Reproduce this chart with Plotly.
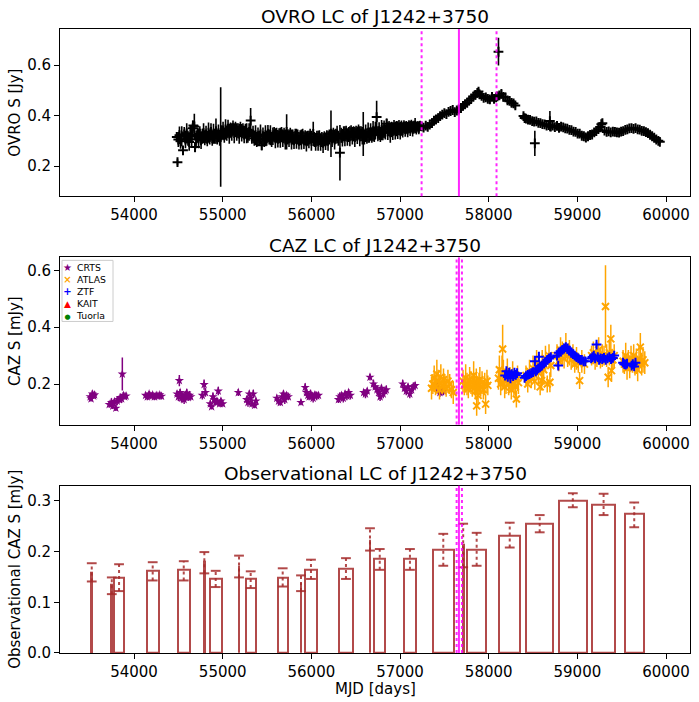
import plotly.graph_objects as go

# ---------------- OVRO 15 GHz light curve ----------------
ovro_mjd = [
    54482, 54490, 54499, 54512, 54525, 54538, 54552, 54566, 54580, 54594,
    54608, 54622, 54636, 54650, 54662, 54669, 54680, 54688, 54700, 54714,
    54728, 54742, 54756, 54770, 54784, 54798, 54812, 54826, 54840, 54854,
    54868, 54882, 54896, 54910, 54924, 54938, 54952, 54966, 54977, 54990,
    55004, 55018, 55032, 55046, 55060, 55074, 55088, 55102, 55116, 55130,
    55144, 55158, 55172, 55186, 55200, 55214, 55228, 55242, 55256, 55270,
    55284, 55298, 55315, 55328, 55342, 55356, 55370, 55384, 55398, 55412,
    55426, 55440, 55454, 55468, 55482, 55496, 55510, 55524, 55538, 55552,
    55566, 55580, 55594, 55608, 55622, 55636, 55650, 55664, 55678, 55692,
    55706, 55721, 55734, 55748, 55762, 55776, 55790, 55804, 55818, 55832,
    55846, 55860, 55874, 55888, 55902, 55916, 55930, 55944, 55958, 55972,
    55986, 56000, 56021, 56034, 56048, 56062, 56076, 56090, 56104, 56118,
    56132, 56146, 56160, 56174, 56188, 56202, 56221, 56234, 56248, 56262,
    56276, 56290, 56304, 56322, 56336, 56350, 56364, 56378, 56392, 56406,
    56420, 56434, 56448, 56462, 56476, 56490, 56504, 56518, 56532, 56546,
    56560, 56574, 56585, 56598, 56612, 56626, 56640, 56654, 56668, 56682,
    56696, 56710, 56722, 56736, 56750, 56764, 56778, 56792, 56806, 56820,
    56834, 56849, 56862, 56876, 56890, 56904, 56918, 56932, 56946, 56960,
    56974, 56988, 57002, 57016, 57030, 57044, 57058, 57072, 57086, 57100,
    57114, 57128, 57142, 57156, 57170, 57184, 57198, 57212, 57226, 57243,
    57265, 57290, 57312, 57335, 57360, 57383, 57405, 57430, 57452, 57476,
    57500, 57523, 57547, 57570, 57594, 57617, 57640, 57662, 57687, 57710,
    57733, 57757, 57780, 57803, 57827, 57850, 57872, 57885, 57897, 57920,
    57943, 57967, 57990, 58013, 58037, 58060, 58083, 58098, 58110, 58120,
    58143, 58165, 58188, 58212, 58235, 58258, 58280, 58300, 58392, 58405,
    58420, 58443, 58466, 58490, 58512, 58520, 58537, 58560, 58583, 58606,
    58630, 58653, 58676, 58690, 58700, 58722, 58746, 58770, 58793, 58816,
    58840, 58863, 58886, 58910, 58933, 58956, 58980, 59003, 59026, 59050,
    59073, 59096, 59120, 59143, 59166, 59190, 59213, 59236, 59258, 59270,
    59282, 59306, 59330, 59353, 59376, 59400, 59423, 59446, 59470, 59493,
    59516, 59540, 59563, 59586, 59610, 59633, 59656, 59680, 59703, 59726,
    59750, 59773, 59796, 59820, 59843, 59866, 59890, 59913, 59930,
]
ovro_flux = [
    0.315, 0.215, 0.305, 0.322, 0.298, 0.318, 0.262, 0.325, 0.305, 0.33,
    0.31, 0.295, 0.325, 0.318, 0.35, 0.361, 0.357, 0.275, 0.305, 0.322,
    0.31, 0.328, 0.302, 0.318, 0.33, 0.312, 0.325, 0.308, 0.332, 0.315,
    0.335, 0.31, 0.328, 0.318, 0.338, 0.315, 0.33, 0.31, 0.315, 0.332,
    0.34, 0.322, 0.345, 0.33, 0.348, 0.328, 0.342, 0.335, 0.35, 0.33,
    0.345, 0.335, 0.34, 0.328, 0.345, 0.332, 0.34, 0.325, 0.338, 0.33,
    0.322, 0.335, 0.38, 0.318, 0.325, 0.31, 0.322, 0.305, 0.318, 0.31,
    0.325, 0.282, 0.318, 0.305, 0.322, 0.31, 0.328, 0.315, 0.322, 0.305,
    0.318, 0.325, 0.31, 0.322, 0.308, 0.32, 0.312, 0.325, 0.31, 0.322,
    0.305, 0.335, 0.315, 0.31, 0.322, 0.305, 0.315, 0.302, 0.318, 0.308,
    0.315, 0.3, 0.312, 0.305, 0.318, 0.302, 0.312, 0.298, 0.31, 0.305,
    0.318, 0.3, 0.327, 0.305, 0.295, 0.31, 0.3, 0.312, 0.295, 0.305,
    0.292, 0.308, 0.298, 0.312, 0.3, 0.315, 0.328, 0.31, 0.322, 0.305,
    0.318, 0.325, 0.31, 0.253, 0.322, 0.312, 0.328, 0.318, 0.33, 0.315,
    0.325, 0.318, 0.332, 0.32, 0.328, 0.315, 0.33, 0.322, 0.335, 0.318,
    0.328, 0.32, 0.327, 0.315, 0.33, 0.318, 0.332, 0.322, 0.335, 0.322,
    0.338, 0.325, 0.34, 0.394, 0.328, 0.338, 0.325, 0.342, 0.332, 0.345,
    0.335, 0.368, 0.338, 0.348, 0.332, 0.345, 0.338, 0.352, 0.34, 0.348,
    0.342, 0.352, 0.34, 0.35, 0.343, 0.356, 0.346, 0.353, 0.344, 0.356,
    0.349, 0.358, 0.347, 0.354, 0.36, 0.35, 0.357, 0.351, 0.359, 0.357,
    0.352, 0.36, 0.355, 0.364, 0.37, 0.38, 0.385, 0.39, 0.398, 0.404,
    0.41, 0.406, 0.415, 0.418, 0.422, 0.414, 0.42, 0.424, 0.43, 0.438,
    0.444, 0.45, 0.46, 0.468, 0.475, 0.482, 0.49, 0.495, 0.484, 0.478,
    0.47, 0.472, 0.466, 0.464, 0.474, 0.466, 0.472, 0.476, 0.653, 0.48,
    0.486, 0.474, 0.472, 0.46, 0.458, 0.45, 0.448, 0.44, 0.398, 0.39,
    0.388, 0.384, 0.383, 0.378, 0.376, 0.29, 0.377, 0.371, 0.37, 0.366,
    0.365, 0.36, 0.362, 0.378, 0.356, 0.36, 0.354, 0.359, 0.351, 0.356,
    0.353, 0.349, 0.348, 0.343, 0.342, 0.336, 0.335, 0.328, 0.328, 0.32,
    0.318, 0.313, 0.318, 0.323, 0.325, 0.333, 0.338, 0.346, 0.355, 0.366,
    0.37, 0.34, 0.335, 0.337, 0.333, 0.336, 0.335, 0.333, 0.332, 0.336,
    0.338, 0.343, 0.345, 0.349, 0.35, 0.347, 0.35, 0.345, 0.344, 0.339,
    0.338, 0.334, 0.33, 0.324, 0.318, 0.312, 0.305, 0.3, 0.296,
]
ovro_err = [
    0.02, 0.012, 0.03, 0.035, 0.03, 0.04, 0.012, 0.03, 0.035, 0.04,
    0.03, 0.035, 0.03, 0.045, 0.03, 0.012, 0.05, 0.02, 0.035, 0.03,
    0.04, 0.03, 0.035, 0.03, 0.04, 0.03, 0.035, 0.03, 0.04, 0.03,
    0.035, 0.03, 0.04, 0.03, 0.05, 0.03, 0.035, 0.03, 0.197, 0.03,
    0.035, 0.03, 0.04, 0.03, 0.035, 0.04, 0.03, 0.035, 0.03, 0.04,
    0.03, 0.035, 0.03, 0.04, 0.03, 0.035, 0.03, 0.035, 0.03, 0.04,
    0.03, 0.035, 0.05, 0.03, 0.035, 0.03, 0.04, 0.03, 0.035, 0.03,
    0.04, 0.02, 0.035, 0.03, 0.04, 0.03, 0.035, 0.03, 0.04, 0.03,
    0.035, 0.03, 0.04, 0.03, 0.035, 0.03, 0.04, 0.03, 0.035, 0.03,
    0.04, 0.07, 0.03, 0.035, 0.03, 0.04, 0.03, 0.035, 0.03, 0.04,
    0.03, 0.035, 0.03, 0.04, 0.03, 0.035, 0.03, 0.04, 0.03, 0.035,
    0.03, 0.04, 0.048, 0.03, 0.035, 0.03, 0.04, 0.03, 0.035, 0.03,
    0.04, 0.03, 0.035, 0.03, 0.04, 0.03, 0.092, 0.035, 0.03, 0.04,
    0.03, 0.035, 0.03, 0.11, 0.03, 0.035, 0.03, 0.04, 0.03, 0.035,
    0.03, 0.04, 0.03, 0.035, 0.03, 0.04, 0.03, 0.035, 0.03, 0.04,
    0.03, 0.035, 0.087, 0.03, 0.035, 0.03, 0.04, 0.03, 0.035, 0.03,
    0.04, 0.03, 0.035, 0.065, 0.03, 0.035, 0.03, 0.04, 0.03, 0.035,
    0.03, 0.02, 0.035, 0.03, 0.04, 0.03, 0.035, 0.03, 0.035, 0.03,
    0.035, 0.03, 0.035, 0.03, 0.03, 0.025, 0.03, 0.025, 0.03, 0.025,
    0.03, 0.025, 0.03, 0.025, 0.03, 0.025, 0.02, 0.025, 0.02, 0.015,
    0.012, 0.012, 0.01, 0.012, 0.01, 0.012, 0.01, 0.01, 0.01, 0.01,
    0.01, 0.01, 0.01, 0.01, 0.01, 0.01, 0.01, 0.01, 0.01, 0.01,
    0.01, 0.01, 0.01, 0.01, 0.01, 0.01, 0.012, 0.012, 0.012, 0.012,
    0.012, 0.012, 0.012, 0.012, 0.012, 0.012, 0.012, 0.015, 0.055, 0.015,
    0.015, 0.012, 0.012, 0.012, 0.012, 0.012, 0.012, 0.012, 0.01, 0.01,
    0.01, 0.01, 0.01, 0.01, 0.01, 0.05, 0.01, 0.01, 0.01, 0.01,
    0.01, 0.01, 0.01, 0.04, 0.01, 0.01, 0.008, 0.008, 0.008, 0.008,
    0.008, 0.008, 0.008, 0.008, 0.008, 0.008, 0.008, 0.008, 0.008, 0.008,
    0.008, 0.008, 0.008, 0.008, 0.008, 0.008, 0.008, 0.008, 0.008, 0.008,
    0.008, 0.008, 0.008, 0.008, 0.008, 0.008, 0.008, 0.008, 0.008, 0.008,
    0.008, 0.008, 0.008, 0.008, 0.008, 0.008, 0.008, 0.008, 0.008, 0.008,
    0.008, 0.008, 0.008, 0.008, 0.008, 0.008, 0.008, 0.008, 0.008,
]

# ---------------- optical (CAZ) light curves ----------------
crts_mjd = [
    53505, 53515, 53530, 53545, 53555,
    53720, 53745, 53760, 53780, 53795, 53810, 53830, 53845, 53860, 53868, 53880, 53895, 53910,
    54130, 54150, 54170, 54190, 54210, 54230, 54250, 54270, 54290, 54310,
    54485, 54500, 54511, 54520, 54535, 54550, 54565, 54580, 54595, 54610, 54625, 54640,
    54770, 54790, 54805,
    54860, 54875, 54890, 54905, 54920, 54935, 54950, 54965, 54980, 55000,
    55176,
    55270, 55285, 55300, 55315, 55330, 55345, 55360, 55375,
    55610, 55630, 55650, 55670, 55685, 55700, 55720, 55740,
    55882,
    55930, 55945, 55960, 55975, 55990, 56005, 56020, 56040, 56060, 56080,
    56305, 56320, 56340, 56360, 56380, 56400, 56420, 56440,
    56590, 56610, 56630,
    56661,
    56700, 56720, 56740, 56760, 56775, 56790, 56810, 56830, 56845,
    57030, 57050, 57070, 57090, 57110, 57130, 57150, 57170,
    57410, 57430, 57450, 57470, 57490,
]
crts_flux = [
    0.155, 0.148, 0.165, 0.158, 0.162,
    0.128, 0.135, 0.122, 0.138, 0.115, 0.14, 0.145, 0.152, 0.148, 0.235, 0.16, 0.155, 0.158,
    0.16, 0.155, 0.165, 0.158, 0.162, 0.155, 0.16, 0.158, 0.162, 0.157,
    0.165, 0.155, 0.212, 0.17, 0.15, 0.158, 0.145, 0.162, 0.168, 0.152, 0.16, 0.155,
    0.16, 0.198, 0.17,
    0.13, 0.12, 0.155, 0.145, 0.135, 0.14, 0.175, 0.13, 0.14, 0.13,
    0.17,
    0.145, 0.135, 0.165, 0.15, 0.13, 0.165, 0.125, 0.14,
    0.15, 0.14, 0.135, 0.155, 0.165, 0.145, 0.16, 0.155,
    0.135,
    0.188, 0.17, 0.16, 0.155, 0.165, 0.16, 0.15, 0.162, 0.158, 0.16,
    0.145, 0.155, 0.16, 0.15, 0.165, 0.158, 0.17, 0.16,
    0.17, 0.165, 0.175,
    0.224,
    0.2, 0.19, 0.18, 0.17, 0.155, 0.185, 0.165, 0.175, 0.18,
    0.2, 0.185, 0.175, 0.19, 0.165, 0.18, 0.19, 0.195,
    0.2, 0.185, 0.17, 0.18, 0.175,
]
crts_err = [
    0.012, 0.01, 0.012, 0.01, 0.012,
    0.012, 0.015, 0.01, 0.012, 0.01, 0.015, 0.012, 0.01, 0.015, 0.058, 0.012, 0.01, 0.012,
    0.01, 0.012, 0.01, 0.012, 0.01, 0.012, 0.01, 0.012, 0.01, 0.012,
    0.012, 0.015, 0.02, 0.012, 0.015, 0.012, 0.015, 0.012, 0.015, 0.012, 0.015, 0.012,
    0.015, 0.018, 0.015,
    0.012, 0.01, 0.015, 0.012, 0.01, 0.012, 0.015, 0.01, 0.012, 0.01,
    0.012,
    0.012, 0.015, 0.012, 0.015, 0.012, 0.015, 0.01, 0.012,
    0.012, 0.015, 0.012, 0.015, 0.012, 0.015, 0.012, 0.012,
    0.01,
    0.015, 0.012, 0.015, 0.012, 0.015, 0.012, 0.015, 0.012, 0.015, 0.012,
    0.012, 0.015, 0.012, 0.015, 0.012, 0.015, 0.012, 0.015,
    0.012, 0.015, 0.012,
    0.012,
    0.015, 0.012, 0.015, 0.012, 0.015, 0.012, 0.015, 0.012, 0.015,
    0.015, 0.012, 0.015, 0.012, 0.015, 0.012, 0.015, 0.012,
    0.015, 0.02, 0.015, 0.02, 0.015,
]

atlas_mjd = [
    57355, 57370, 57385, 57400, 57415, 57430, 57445, 57460, 57475, 57490, 57505, 57520, 57540, 57560, 57580, 57600,
    57710, 57725, 57740, 57755, 57770, 57785, 57800, 57815, 57830, 57840, 57850, 57860,
    57864, 57870, 57880, 57890, 57900, 57910, 57925, 57940, 57955, 57965, 57980, 57990,
    58110, 58120, 58135, 58150, 58157, 58165, 58180, 58195, 58210, 58225, 58240, 58255, 58270, 58285, 58300, 58312, 58325, 58335,
    58420, 58440, 58460, 58480, 58500, 58520, 58540, 58560, 58580, 58596, 58603, 58620, 58640, 58660, 58680, 58690, 58700,
    58770, 58790, 58810, 58830, 58850, 58870, 58890, 58910, 58930, 58950, 58970, 58990, 59010, 59025, 59050, 59080,
    59160, 59180, 59200, 59220, 59240, 59260, 59280, 59300, 59317, 59330, 59347, 59360, 59377, 59385, 59400, 59415,
    59515, 59530, 59545, 59560, 59575, 59590, 59605, 59620, 59635, 59650, 59665, 59680, 59695, 59710, 59725, 59740, 59760,
]
atlas_flux = [
    0.185, 0.2, 0.22, 0.19, 0.235, 0.21, 0.18, 0.225, 0.195, 0.215, 0.2, 0.185, 0.21, 0.2, 0.18, 0.17,
    0.21, 0.195, 0.22, 0.2, 0.185, 0.215, 0.205, 0.19, 0.23, 0.2, 0.175, 0.21,
    0.123, 0.185, 0.16, 0.2, 0.215, 0.19, 0.205, 0.18, 0.2, 0.129, 0.21, 0.195,
    0.22, 0.25, 0.2, 0.24, 0.3235, 0.235, 0.19, 0.21, 0.24, 0.2, 0.215, 0.18, 0.23, 0.2, 0.19, 0.147, 0.22, 0.205,
    0.23, 0.2, 0.245, 0.22, 0.255, 0.21, 0.27, 0.24, 0.19, 0.212, 0.26, 0.25, 0.29, 0.2, 0.3, 0.206, 0.265,
    0.3, 0.28, 0.32, 0.31, 0.29, 0.33, 0.3, 0.31, 0.285, 0.3, 0.27, 0.29, 0.275, 0.212, 0.28, 0.27,
    0.3, 0.31, 0.285, 0.3, 0.32, 0.29, 0.3, 0.3, 0.473, 0.3, 0.2235, 0.31, 0.359, 0.247, 0.285, 0.3,
    0.28, 0.27, 0.3, 0.255, 0.285, 0.26, 0.29, 0.275, 0.3, 0.265, 0.28, 0.25, 0.29, 0.33, 0.27, 0.285, 0.275,
]
atlas_err = [
    0.04, 0.035, 0.045, 0.03, 0.05, 0.04, 0.035, 0.045, 0.03, 0.04, 0.035, 0.03, 0.04, 0.035, 0.03, 0.04,
    0.04, 0.035, 0.05, 0.04, 0.035, 0.045, 0.04, 0.035, 0.05, 0.04, 0.03, 0.045,
    0.035, 0.04, 0.035, 0.04, 0.045, 0.035, 0.04, 0.035, 0.04, 0.035, 0.04, 0.035,
    0.04, 0.05, 0.04, 0.06, 0.085, 0.05, 0.04, 0.045, 0.05, 0.04, 0.045, 0.035, 0.05, 0.04, 0.035, 0.03, 0.045, 0.04,
    0.035, 0.03, 0.04, 0.035, 0.045, 0.03, 0.05, 0.04, 0.03, 0.035, 0.06, 0.04, 0.045, 0.03, 0.04, 0.035, 0.04,
    0.04, 0.035, 0.045, 0.04, 0.035, 0.05, 0.04, 0.045, 0.035, 0.04, 0.03, 0.04, 0.035, 0.03, 0.04, 0.035,
    0.035, 0.04, 0.035, 0.04, 0.045, 0.035, 0.04, 0.035, 0.145, 0.04, 0.035, 0.045, 0.05, 0.04, 0.035, 0.04,
    0.04, 0.035, 0.045, 0.04, 0.035, 0.04, 0.045, 0.035, 0.04, 0.035, 0.045, 0.04, 0.045, 0.05, 0.04, 0.045, 0.04,
]

ztf_mjd = [
    58185, 58200, 58215, 58230, 58245, 58260, 58275, 58290, 58305, 58320,
    58405, 58420, 58440, 58460, 58480, 58500, 58521, 58530, 58545, 58560, 58566, 58580, 58600, 58620, 58640, 58660, 58680, 58700,
    58770, 58784, 58790, 58810, 58830, 58850, 58870, 58890, 58910, 58930, 58950, 58970, 58990, 59010, 59030, 59050, 59070, 59090,
    59155, 59170, 59185, 59200, 59216, 59230, 59245, 59260, 59280, 59300, 59320, 59340, 59360, 59380, 59400, 59415,
    59515, 59530, 59545, 59560, 59612, 59625, 59640, 59655,
]
ztf_flux = [
    0.23, 0.245, 0.225, 0.24, 0.22, 0.235, 0.228, 0.24, 0.232, 0.238,
    0.222, 0.228, 0.232, 0.235, 0.238, 0.242, 0.28, 0.245, 0.25, 0.255, 0.296, 0.26, 0.265, 0.272, 0.278, 0.285, 0.29, 0.295,
    0.3, 0.265, 0.31, 0.315, 0.32, 0.325, 0.33, 0.325, 0.318, 0.31, 0.305, 0.3, 0.295, 0.29, 0.285, 0.285, 0.28, 0.28,
    0.29, 0.295, 0.3, 0.29, 0.339, 0.295, 0.285, 0.29, 0.288, 0.292, 0.285, 0.29, 0.295, 0.288, 0.292, 0.3,
    0.275, 0.27, 0.268, 0.272, 0.265, 0.27, 0.262, 0.275,
]
ztf_err = [
    0.008, 0.01, 0.008, 0.01, 0.008, 0.01, 0.008, 0.01, 0.008, 0.01,
    0.008, 0.01, 0.008, 0.01, 0.008, 0.01, 0.008, 0.01, 0.008, 0.01, 0.008, 0.01, 0.008, 0.01, 0.008, 0.01, 0.008, 0.01,
    0.008, 0.01, 0.008, 0.01, 0.008, 0.01, 0.008, 0.01, 0.008, 0.01, 0.008, 0.01, 0.008, 0.01, 0.008, 0.01, 0.008, 0.01,
    0.008, 0.01, 0.008, 0.01, 0.008, 0.01, 0.008, 0.01, 0.008, 0.01, 0.008, 0.01, 0.008, 0.01, 0.008, 0.01,
    0.008, 0.01, 0.008, 0.01, 0.008, 0.01, 0.008, 0.01,
]
# KAIT and Tuorla have no points for this source
kait_mjd, kait_flux = [], []
tuorla_mjd, tuorla_flux = [], []

# ---------------- observational (binned) CAZ light curve ----------------
obs_start = [53518, 53744, 53778, 54143, 54493, 54788, 54853, 55179, 55259, 55620, 55878, 55931,
             56315, 56656, 56709, 57040, 57367, 57707, 57757, 58119, 58423, 58787, 59166, 59532]
obs_end = [53528, 53754, 53884, 54278, 54628, 54798, 54989, 55189, 55372, 55733, 55888, 56060,
           56465, 56666, 56833, 57183, 57608, 57717, 57971, 58355, 58727, 59110, 59425, 59750]
obs_flux = [0.159, 0.135, 0.148, 0.162, 0.164, 0.180, 0.146, 0.172, 0.146, 0.149, 0.139, 0.164,
            0.167, 0.224, 0.1855, 0.1855, 0.2046, 0.213, 0.2046, 0.232, 0.2546, 0.301, 0.292, 0.274]
obs_lo = [0.141, 0.116, 0.122, 0.143, 0.143, 0.157, 0.130, 0.149, 0.128, 0.131, 0.122, 0.146,
          0.146, 0.202, 0.164, 0.164, 0.172, 0.169, 0.172, 0.208, 0.238, 0.2875, 0.272, 0.248]
obs_hi = [0.177, 0.149, 0.175, 0.179, 0.181, 0.199, 0.162, 0.192, 0.161, 0.167, 0.153, 0.184,
          0.187, 0.246, 0.205, 0.205, 0.235, 0.255, 0.237, 0.257, 0.272, 0.315, 0.314, 0.297]

# flare epoch and windows (magenta lines)
flare_mjd = 57664
ovro_window = [57243, 58088]
caz_window = [57638, 57698]

legend_names = ['CRTS', 'ATLAS', 'ZTF', 'KAIT', 'Tuorla']
legend_glyphs = ['★', '<b>×</b>', '<b>+</b>', '▲', '●']
legend_colors = ['purple', 'orange', 'blue', 'red', 'green']
legend_glyph_px = [10, 10, 10, 9, 7]

font = 'DejaVu Sans'
bar_col = 'rgba(165,42,42,0.85)'
mag_col = 'rgba(255,0,255,0.85)'
W, H = 699, 702      # reference pixel grid, used for all paper fractions
FIG_H = 712          # the page is photographed slightly squeezed, so draw a bit taller

fig = go.Figure()

# top panel
fig.add_trace(go.Scatter(
    x=ovro_mjd, y=ovro_flux, mode='markers',
    marker=dict(symbol='cross-thin', size=7, color='black', line=dict(width=2, color='black')),
    error_y=dict(type='data', array=ovro_err, color='black', thickness=1.6, width=0),
    xaxis='x', yaxis='y'))

# middle panel
fig.add_trace(go.Scatter(
    x=crts_mjd, y=crts_flux, mode='markers', name='CRTS',
    marker=dict(symbol='star', size=7, color='purple', line=dict(width=0)),
    error_y=dict(type='data', array=crts_err, color='purple', thickness=1.5, width=0),
    xaxis='x2', yaxis='y2'))
fig.add_trace(go.Scatter(
    x=atlas_mjd, y=atlas_flux, mode='markers', name='ATLAS',
    marker=dict(symbol='x-thin', size=7, color='orange', line=dict(width=2, color='orange')),
    error_y=dict(type='data', array=atlas_err, color='orange', thickness=1.5, width=0),
    xaxis='x2', yaxis='y2'))
fig.add_trace(go.Scatter(
    x=ztf_mjd, y=ztf_flux, mode='markers', name='ZTF',
    marker=dict(symbol='cross-thin', size=7, color='blue', line=dict(width=2, color='blue')),
    error_y=dict(type='data', array=ztf_err, color='blue', thickness=1.5, width=0),
    xaxis='x2', yaxis='y2'))
fig.add_trace(go.Scatter(
    x=kait_mjd, y=kait_flux, mode='markers', name='KAIT',
    marker=dict(symbol='triangle-up', size=8, color='red'),
    xaxis='x2', yaxis='y2'))
fig.add_trace(go.Scatter(
    x=tuorla_mjd, y=tuorla_flux, mode='markers', name='Tuorla',
    marker=dict(symbol='circle', size=5, color='green'),
    xaxis='x2', yaxis='y2'))

# bottom panel
bar_mid = [(a + b) / 2 for a, b in zip(obs_start, obs_end)]
bar_wid = [b - a for a, b in zip(obs_start, obs_end)]
fig.add_trace(go.Bar(
    x=bar_mid, y=obs_flux, width=bar_wid,
    marker=dict(color='rgba(0,0,0,0)', line=dict(color=bar_col, width=2)),
    xaxis='x3', yaxis='y3'))

ex, ey = [], []
for c, lo, hi in zip(bar_mid, obs_lo, obs_hi):
    ex += [c, c, None]
    ey += [lo, hi, None]
fig.add_trace(go.Scatter(
    x=ex, y=ey, mode='lines',
    line=dict(color=bar_col, width=2, dash='dot'),
    xaxis='x3', yaxis='y3'))
fig.add_trace(go.Scatter(
    x=bar_mid + bar_mid, y=obs_lo + obs_hi, mode='markers',
    marker=dict(symbol='line-ew', size=7, color=bar_col, line=dict(width=2, color=bar_col)),
    xaxis='x3', yaxis='y3'))

# magenta markers of the flare
shapes = []
for yr, lines in [('y domain', ovro_window), ('y2 domain', caz_window), ('y3 domain', caz_window)]:
    xr = yr.split()[0].replace('y', 'x')
    for v in lines:
        shapes.append(dict(type='line', xref=xr, yref=yr, x0=v, x1=v, y0=0, y1=1,
                           line=dict(color=mag_col, width=2, dash='dot')))
    shapes.append(dict(type='line', xref=xr, yref=yr, x0=flare_mjd, x1=flare_mjd, y0=0, y1=1,
                       line=dict(color=mag_col, width=2)))

# compact legend box (matplotlib style) in the CAZ panel
shapes.append(dict(type='rect', xref='paper', yref='paper', x0=62 / W, x1=113 / W,
                   y0=1 - 321 / H, y1=1 - 260 / H, line=dict(color='#cccccc', width=1),
                   fillcolor='rgba(255,255,255,0.8)'))

xdom = [60 / W, 690 / W]


def ydom(top, bottom):
    return [1 - bottom / H, 1 - top / H]


axis_common = dict(showline=True, mirror=True, linecolor='black', linewidth=1,
                   ticks='outside', ticklen=5, tickcolor='black', showgrid=False,
                   zeroline=False, tickfont=dict(size=15, color='black'))

xticks = [54000, 55000, 56000, 57000, 58000, 59000, 60000]
xrange_ = [53165, 60270]

layout_axes = {}
for i, (top, bottom, yr, yt) in enumerate([
        (29, 196, [0.08, 0.743], [0.2, 0.4, 0.6]),
        (257, 424, [0.057, 0.646], [0.2, 0.4, 0.6]),
        (485, 652, [0, 0.33], [0.0, 0.1, 0.2, 0.3])]):
    sfx = '' if i == 0 else str(i + 1)
    layout_axes['xaxis' + sfx] = dict(domain=xdom, range=xrange_, tickvals=xticks, tickformat='d',
                                      anchor='y' + sfx, **axis_common)
    layout_axes['yaxis' + sfx] = dict(domain=ydom(top, bottom), range=yr, tickvals=yt, tickformat='.1f',
                                      anchor='x' + sfx, **axis_common)

annotations = []
for text, yc in [('OVRO LC of J1242+3750', 16), ('CAZ LC of J1242+3750', 245),
                 ('Observational LC of J1242+3750', 473)]:
    annotations.append(dict(text=text, x=375 / W, y=1 - yc / H, xref='paper', yref='paper',
                            showarrow=False, xanchor='center', yanchor='middle',
                            font=dict(size=18.5, color='black')))
for text, yc in [('OVRO S [Jy]', 112.5), ('CAZ S [mJy]', 340.5), ('Observational CAZ S [mJy]', 569)]:
    annotations.append(dict(text=text, x=15 / W, y=1 - yc / H, xref='paper', yref='paper',
                            showarrow=False, xanchor='center', yanchor='middle', textangle=-90,
                            font=dict(size=15, color='black')))
annotations.append(dict(text='MJD [days]', x=375 / W, y=1 - 688 / H, xref='paper', yref='paper',
                        showarrow=False, xanchor='center', yanchor='middle', borderpad=0,
                        font=dict(size=15, color='black')))

# legend: one column of coloured glyphs, one column of names
glyph_col = '<br>'.join(
    f"<span style='color:{c};font-size:{s}px'>{g}</span>"
    for g, c, s in zip(legend_glyphs, legend_colors, legend_glyph_px))
annotations.append(dict(text=glyph_col, x=67 / W, y=1 - 291 / H, xref='paper', yref='paper',
                        showarrow=False, xanchor='center', yanchor='middle', align='center',
                        borderpad=0, font=dict(size=9.3)))
annotations.append(dict(text='<br>'.join(legend_names), x=75 / W, y=1 - 291 / H,
                        xref='paper', yref='paper', showarrow=False, xanchor='left',
                        yanchor='middle', align='left', borderpad=0,
                        font=dict(size=9.3, color='black')))

fig.update_layout(
    width=W, height=FIG_H, margin=dict(l=0, r=0, t=0, b=0),
    paper_bgcolor='white', plot_bgcolor='white',
    font=dict(family=font, color='black'),
    shapes=shapes, annotations=annotations,
    showlegend=False, bargap=0,
    **layout_axes)

fig.write_html('out.html', config={'displayModeBar': False},
               post_script="document.body.style.margin='0';document.body.style.overflow='hidden';")
